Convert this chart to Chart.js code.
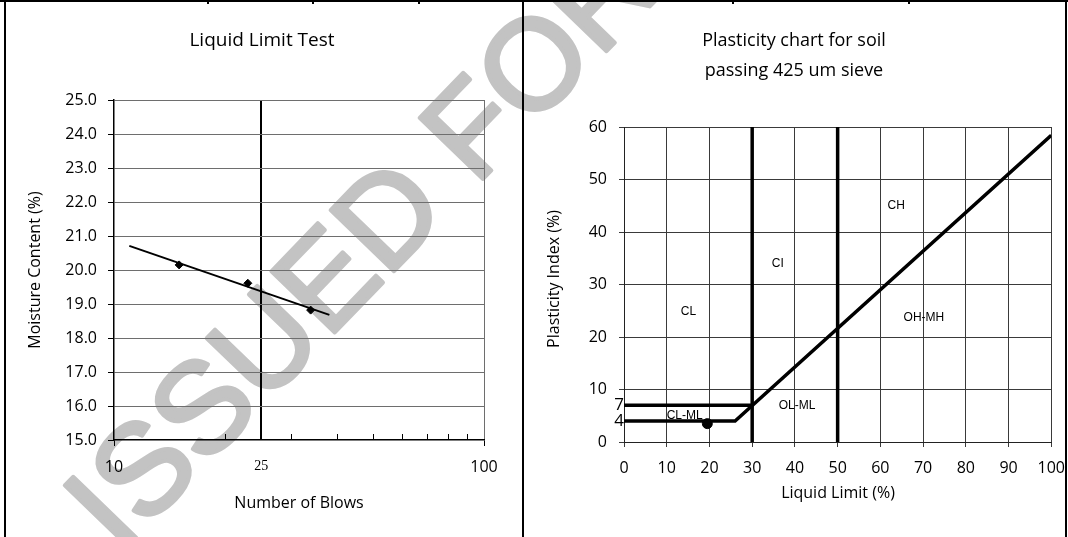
<!DOCTYPE html>
<html>
<head>
<meta charset="utf-8">
<script src="https://cdn.jsdelivr.net/npm/chart.js@4.4.1/dist/chart.umd.min.js"></script>
<style>
  html, body { margin: 0; padding: 0; background: #fff; }
  #page { position: relative; width: 1068px; height: 537px; overflow: hidden; background: #fff; }
  canvas { position: absolute; top: 0; }
  .rule { position: absolute; background: #000; }
</style>
</head>
<body>
<div id="page">
  <canvas id="stamp" width="1068" height="537" style="left:0"></canvas>
  <canvas id="llChart" width="522" height="537" style="left:0"></canvas>
  <canvas id="plChart" width="553" height="537" style="left:524px"></canvas>
  <div class="rule" style="left:0;top:0;width:1068px;height:2px"></div>
  <div class="rule" style="left:4px;top:0;width:2px;height:537px"></div>
  <div class="rule" style="left:522px;top:0;width:2px;height:537px"></div>
  <div class="rule" style="left:1065px;top:0;width:2px;height:537px"></div>
  <div class="rule" style="left:207px;top:0;width:2px;height:4px"></div>
  <div class="rule" style="left:312px;top:0;width:2px;height:4px"></div>
  <div class="rule" style="left:418px;top:0;width:2px;height:4px"></div>
  <div class="rule" style="left:732px;top:0;width:2px;height:4px"></div>
  <div class="rule" style="left:908px;top:0;width:2px;height:4px"></div>
</div>
<script>
// liquid limit test (left)
const blows = [15, 23, 34];
const moisture = [20.15, 19.61, 18.82];
const trendBlows = [11, 38.2];
const trendMoisture = [20.71, 18.68];
const blowTicks = [10, 20, 25, 30, 40, 50, 60, 70, 80, 90, 100];
const blowLabels = [10, 25, 100];

// plasticity chart (right)
const aLineLL = [0, 26, 100];
const aLinePI = [4, 4, 58.4];
const upperLL = [0, 30];
const upperPI = [7, 7];
const divisionLL = [30, 50];
const sampleLL = [19.5];
const samplePI = [3.5];
const extraPiTicks = [7, 4];
const zoneNames = ['CL', 'CI', 'CH', 'OH-MH', 'OL-ML', 'CL-ML'];
const zoneLL = [15.1, 36, 63.7, 70.2, 40.5, 14.2];
const zonePI = [24.8, 33.9, 45, 23.7, 6.9, 5.1];

const pts = (xs, ys) => xs.map((x, i) => ({ x: x, y: ys[i] }));

Chart.defaults.font.family = "'Open Sans', sans-serif";
Chart.defaults.color = '#000';
Chart.defaults.animation = false;

// watermark, behind both charts
(function () {
  const c = document.getElementById('stamp').getContext('2d');
  c.save();
  c.translate(120, 555);
  c.rotate(-46 * Math.PI / 180);
  c.fillStyle = '#c3c3c3';
  c.strokeStyle = '#c3c3c3';
  c.lineWidth = 4;
  c.lineJoin = 'round';
  c.font = "128px 'Liberation Sans', Arial, sans-serif";
  c.textBaseline = 'alphabetic';
  c.fillText('ISSUED FOR', 0, 0);
  c.strokeText('ISSUED FOR', 0, 0);
  c.restore();
})();

function textPlugin(id, items) {
  return {
    id: id,
    afterDraw(chart) {
      const ctx = chart.ctx;
      items.forEach(t => {
        ctx.save();
        ctx.font = (t.size || 16) + "px " + (t.family || "'Open Sans', sans-serif");
        ctx.fillStyle = '#000';
        ctx.textAlign = 'center';
        ctx.textBaseline = 'middle';
        ctx.translate(t.x, t.y);
        if (t.rotate) ctx.rotate(t.rotate);
        ctx.fillText(t.text, 0, 0);
        ctx.restore();
      });
    }
  };
}

const minorTicks = {
  id: 'minorTicks',
  afterDraw(chart) {
    const ctx = chart.ctx, sx = chart.scales.x, y0 = chart.chartArea.bottom;
    ctx.save();
    ctx.strokeStyle = '#000';
    ctx.lineWidth = 1;
    blowTicks.forEach(v => {
      if (blowLabels.includes(v)) return;
      const px = Math.round(sx.getPixelForValue(v)) + 0.5;
      ctx.beginPath();
      ctx.moveTo(px, y0);
      ctx.lineTo(px, y0 - 6);
      ctx.stroke();
    });
    ctx.restore();
  }
};

new Chart(document.getElementById('llChart'), {
  type: 'scatter',
  data: {
    datasets: [
      {
        data: pts(trendBlows, trendMoisture),
        showLine: true,
        borderColor: '#000',
        borderWidth: 2,
        pointRadius: 0
      },
      {
        data: pts(blows, moisture),
        pointStyle: 'rectRot',
        pointRadius: 4,
        backgroundColor: '#000',
        borderColor: '#000'
      }
    ]
  },
  options: {
    responsive: false,
    devicePixelRatio: 1,
    layout: { padding: { left: 0, top: 100, right: 38, bottom: 37 } },
    plugins: { legend: { display: false }, tooltip: { enabled: false } },
    scales: {
      x: {
        type: 'logarithmic',
        min: 10,
        max: 100,
        afterBuildTicks: s => { s.ticks = blowTicks.map(v => ({ value: v })); },
        afterFit: s => { s.height = 60; },
        border: { color: '#000', width: 1.5 },
        grid: {
          color: c => c.tick.value === 25 ? '#000' : (c.tick.value === 100 ? '#6e6e6e' : 'rgba(0,0,0,0)'),
          lineWidth: c => c.tick.value === 25 ? 2 : 1,
          tickColor: c => (c.tick.value === 10 || c.tick.value === 100) ? '#000' : 'rgba(0,0,0,0)',
          tickLength: 6
        },
        ticks: {
          autoSkip: false,
          maxRotation: 0,
          padding: 12,
          callback: v => blowLabels.includes(v) ? String(v) : '',
          font: c => (c.tick && c.tick.value === 25)
            ? { family: "'Liberation Serif', serif", size: 14 }
            : { size: 16 }
        }
      },
      y: {
        min: 15,
        max: 25,
        afterFit: s => { s.width = 114; },
        border: { color: '#000', width: 1.5 },
        grid: {
          color: c => c.tick.value === 15 ? 'rgba(0,0,0,0)' : '#6e6e6e',
          tickColor: '#000',
          tickLength: 6
        },
        ticks: { stepSize: 1, padding: 11, font: { size: 16 }, callback: v => v.toFixed(1) }
      }
    }
  },
  plugins: [minorTicks, textPlugin('llText', [
    { text: 'Liquid Limit Test', x: 262, y: 41, size: 19 },
    { text: 'Number of Blows', x: 299, y: 503, size: 16 },
    { text: 'Moisture Content (%)', x: 35, y: 270, size: 16, rotate: -Math.PI / 2 }
  ])]
});

const plLabels = {
  id: 'plLabels',
  afterDatasetsDraw(chart) {
    const ctx = chart.ctx, sx = chart.scales.x, sy = chart.scales.y;
    ctx.save();
    ctx.fillStyle = '#000';
    ctx.textAlign = 'center';
    ctx.textBaseline = 'middle';
    ctx.font = "12px 'Liberation Sans', Arial, sans-serif";
    zoneNames.forEach((n, i) => {
      ctx.fillText(n, sx.getPixelForValue(zoneLL[i]), sy.getPixelForValue(zonePI[i]));
    });
    ctx.textAlign = 'right';
    ctx.font = "17px 'Open Sans', sans-serif";
    extraPiTicks.forEach(v => {
      ctx.fillText(String(v), chart.chartArea.left, sy.getPixelForValue(v));
    });
    ctx.restore();
  }
};

const thick = { showLine: true, borderColor: '#000', borderWidth: 3.5, pointRadius: 0 };

new Chart(document.getElementById('plChart'), {
  type: 'scatter',
  data: {
    datasets: [
      Object.assign({ data: pts(aLineLL, aLinePI) }, thick),
      Object.assign({ data: pts(upperLL, upperPI) }, thick),
      ...divisionLL.map(v => Object.assign({ data: [{ x: v, y: 0 }, { x: v, y: 60 }] }, thick)),
      {
        data: pts(sampleLL, samplePI),
        pointRadius: 5,
        backgroundColor: '#000',
        borderColor: '#000'
      }
    ]
  },
  options: {
    responsive: false,
    devicePixelRatio: 1,
    layout: { padding: { left: 0, top: 127, right: 0, bottom: 40 } },
    plugins: { legend: { display: false }, tooltip: { enabled: false } },
    scales: {
      x: {
        min: 0,
        max: 100,
        afterFit: s => { s.height = 55; },
        border: { color: '#222', width: 1 },
        grid: { color: '#3a3a3a', tickColor: '#3a3a3a', tickLength: 5 },
        ticks: { stepSize: 10, padding: 12, maxRotation: 0, font: { size: 16 } }
      },
      y: {
        min: 0,
        max: 60,
        afterFit: s => { s.width = 100; },
        border: { color: '#222', width: 1 },
        grid: { color: '#3a3a3a', tickColor: '#3a3a3a', tickLength: 5 },
        ticks: { stepSize: 10, padding: 12, font: { size: 16 } }
      }
    }
  },
  plugins: [plLabels, textPlugin('plText', [
    { text: 'Plasticity chart for soil', x: 270, y: 41, size: 18 },
    { text: 'passing 425 um sieve', x: 270, y: 71, size: 18 },
    { text: 'Liquid Limit (%)', x: 314, y: 493, size: 16 },
    { text: 'Plasticity Index (%)', x: 30, y: 279, size: 16, rotate: -Math.PI / 2 }
  ])]
});
</script>
</body>
</html>
